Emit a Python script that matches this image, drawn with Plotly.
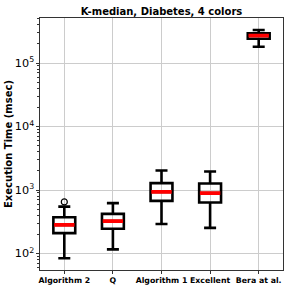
import plotly.graph_objects as go

categories = ["Algorithm 2", "Q", "Algorithm 1", "Excellent", "Bera at al."]
lower = [84, 116, 292, 253, 181000]
q1 = [209, 246, 675, 635, 242000]
median = [282, 323, 933, 893, 270000]
q3 = [373, 421, 1285, 1267, 294000]
upper = [548, 621, 2032, 1960, 332000]
outlier_cat = ["Algorithm 2"]
outlier_val = [650]

FONT = "DejaVu Sans"

fig = go.Figure()
fig.add_trace(go.Box(
    x=categories, q1=q1, median=median, q3=q3,
    lowerfence=lower, upperfence=upper,
    boxpoints=False, width=0.45, whiskerwidth=0.55,
    line=dict(color="black", width=2.6),
    fillcolor="rgba(255,255,255,0)", showlegend=False, hoverinfo="skip",
))
fig.add_trace(go.Box(
    x=categories, q1=median, median=median, q3=median,
    lowerfence=median, upperfence=median,
    boxpoints=False, width=0.42, whiskerwidth=0,
    line=dict(color="red", width=3.8),
    fillcolor="rgba(255,255,255,0)", showlegend=False, hoverinfo="skip",
))
fig.add_trace(go.Scatter(
    x=outlier_cat, y=outlier_val, mode="markers",
    marker=dict(symbol="circle-open", size=6, color="black", line=dict(width=1.2)),
    showlegend=False, hoverinfo="skip",
))

fig.update_layout(
    width=291, height=291,
    margin=dict(l=40, r=8, t=18, b=21),
    paper_bgcolor="white", plot_bgcolor="white",
    boxmode="overlay",
    font=dict(family=FONT, color="black"),
    title=dict(text="<b>K-median, Diabetes, 4 colors</b>", x=0.555, xanchor="center",
               y=0.962, yanchor="middle", font=dict(size=10, family=FONT)),
)
fig.update_xaxes(
    type="category", range=[-0.5, 4.5], automargin=False,
    showline=True, linecolor="#333", linewidth=1, mirror=True,
    showgrid=True, gridcolor="#cccccc", gridwidth=1,
    ticks="outside", ticklen=3, tickcolor="#333", tickangle=0,
    tickfont=dict(size=7.8, family=FONT),
    tickvals=categories, ticktext=["<b>%s</b>" % c for c in categories],
)
fig.update_yaxes(
    type="log", range=[1.74, 5.71], dtick=1, exponentformat="power", automargin=False,
    showline=True, linecolor="#333", linewidth=1, mirror=True,
    showgrid=True, gridcolor="#cccccc", gridwidth=1,
    ticks="outside", ticklen=3, tickcolor="#333",
    tickfont=dict(size=9, family=FONT),
    minor=dict(ticks="outside", ticklen=2, tickcolor="#333", showgrid=False),
    title=dict(text="<b>Execution Time (msec)</b>", font=dict(size=10, family=FONT), standoff=0),
)

fig.write_html("out.html", config={"displayModeBar": False},
               post_script="document.body.style.margin='0';document.body.style.overflow='hidden';")
